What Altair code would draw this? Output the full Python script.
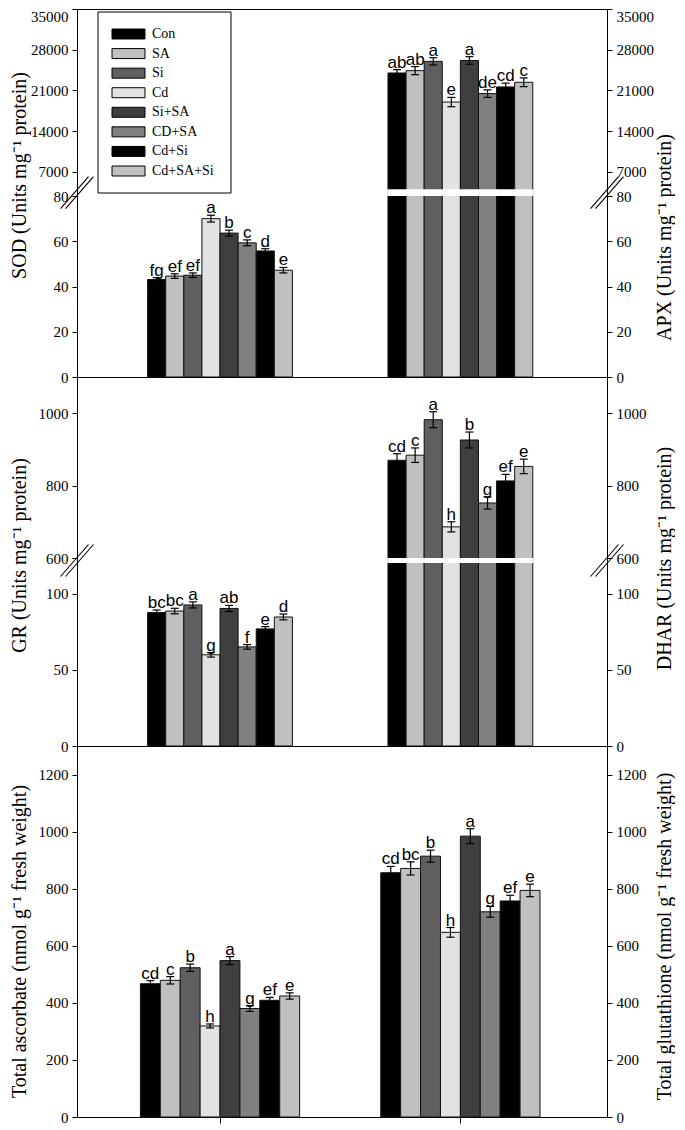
import altair as alt
import pandas as pd

# ---------------- data ----------------
TREATMENTS = ["Con", "SA", "Si", "Cd", "Si+SA", "CD+SA", "Cd+Si", "Cd+SA+Si"]
COLORS = ["#000000", "#c0c0c0", "#5f5f5f", "#e2e2e2", "#3f3f3f", "#808080", "#000000", "#c0c0c0"]

GROUP_POS = [1, 2]
X_DOMAIN = [0.405, 2.61]

SOD = [43.1, 44.6, 45.0, 70.0, 63.6, 59.3, 55.7, 47.2]
SOD_ERR = [0.8, 1.0, 1.0, 1.5, 1.3, 1.3, 1.0, 1.2]
SOD_LET = ["fg", "ef", "ef", "a", "b", "c", "d", "e"]

APX = [24000, 24400, 26000, 19000, 26150, 20450, 21600, 22400]
APX_ERR = [570, 700, 620, 800, 650, 650, 650, 750]
APX_LET = ["ab", "ab", "a", "e", "a", "de", "cd", "c"]

GR = [87.5, 88.5, 92.5, 59.8, 90.2, 65.0, 76.8, 84.6]
GR_ERR = [1.7, 1.8, 2.0, 1.5, 2.0, 1.5, 1.5, 1.9]
GR_LET = ["bc", "bc", "a", "g", "ab", "f", "e", "d"]

DHAR = [870, 884, 982, 686, 926, 752, 813, 853]
DHAR_ERR = [18, 20, 22, 14, 22, 17, 18, 20]
DHAR_LET = ["cd", "c", "a", "h", "b", "g", "ef", "e"]

ASA = [467, 479, 523, 319, 548, 380, 409, 424]
ASA_ERR = [11, 13, 13, 7, 14, 10, 10, 11]
ASA_LET = ["cd", "c", "b", "h", "a", "g", "ef", "e"]

GSH = [856, 871, 914, 647, 984, 719, 757, 794]
GSH_ERR = [22, 23, 21, 17, 26, 19, 20, 22]
GSH_LET = ["cd", "bc", "b", "h", "a", "g", "ef", "e"]

TOP_DOMAIN = [0, 80, 4000, 35000]
TOP_TICKS = [0, 20, 40, 60, 80, 7000, 14000, 21000, 28000, 35000]
MID_DOMAIN = [0, 120, 600, 1100]
MID_TICKS = [0, 50, 100, 600, 800, 1000]
BOT_DOMAIN = [0, 1300]
BOT_TICKS = [0, 200, 400, 600, 800, 1000, 1200]

TITLES = {
    "top": ("SOD (Units mg\u207b\u00b9 protein)", "APX (Units mg\u207b\u00b9 protein)"),
    "mid": ("GR (Units mg\u207b\u00b9 protein)", "DHAR (Units mg\u207b\u00b9 protein)"),
    "bot": ("Total ascorbate (nmol g\u207b\u00b9 fresh weight)",
            "Total glutathione (nmol g\u207b\u00b9 fresh weight)"),
}

# ---------------- style ----------------
SERIF = "Liberation Serif"
SANS = "Liberation Sans"
W = 530
BW_TOP = 0.0753
BW_BOT = 0.0828
CAP_HALF = 0.0166
SWATCH = "M-2.357,-0.714H2.357V0.714H-2.357Z"


def build_df(left, left_err, left_let, right, right_err, right_let, bw):
    rows = []
    sets = [(left, left_err, left_let), (right, right_err, right_let)]
    n = len(TREATMENTS)
    for g, (vals, errs, lets) in enumerate(sets):
        for i, t in enumerate(TREATMENTS):
            c = GROUP_POS[g] + (i - (n - 1) / 2) * bw
            rows.append({
                "side": g, "treatment": t, "value": vals[i], "base": 0,
                "letter": lets[i], "xc": c, "x0": c - bw / 2, "x1": c + bw / 2,
                "c0": c - CAP_HALF, "c1": c + CAP_HALF,
                "lo": vals[i] - errs[i], "hi": vals[i] + errs[i],
            })
    return pd.DataFrame(rows)


def color_enc():
    return alt.Color("treatment:N", scale=alt.Scale(domain=TREATMENTS, range=COLORS), legend=None)


def legend_layers():
    ldf = pd.DataFrame({"treatment": TREATMENTS})
    lscale = alt.Scale(type="point", domain=TREATMENTS, range=[25, 162], padding=0)
    box = alt.Chart(pd.DataFrame({"k": [0]})).mark_rect(
        fill="white", stroke="black", strokeWidth=1).encode(
        x=alt.value(21), x2=alt.value(154), y=alt.value(3), y2=alt.value(184))
    sw = alt.Chart(ldf).mark_point(shape=SWATCH, size=196, filled=True, opacity=1,
                                   stroke="black", strokeWidth=1).encode(
        x=alt.value(51.5), y=alt.Y("treatment:N", scale=lscale, axis=None), fill=color_enc())
    tx = alt.Chart(ldf).mark_text(align="left", baseline="middle", font=SERIF, fontSize=14,
                                  color="black").encode(
        x=alt.value(75), y=alt.Y("treatment:N", scale=lscale, axis=None), text="treatment:N")
    return [box, sw, tx]


def panel(df, ydom, yrange, ticks, height, titles, pads, title_ys, xaxis=None,
          top_label=None, with_legend=False):
    xs = alt.Scale(domain=X_DOMAIN, nice=False, zero=False)

    def ys():
        return alt.Scale(domain=ydom, range=yrange, nice=False, zero=False)

    def axis(orient, title, pad, ty):
        kw = dict(orient=orient, values=ticks, format="d", title=title, grid=False,
                  tickSize=5, labelPadding=4, titlePadding=pad, titleY=ty,
                  labelFont=SERIF, labelFontSize=15, labelColor="black",
                  titleFont=SERIF, titleFontSize=20, titleFontWeight="normal",
                  titleColor="black", domainColor="black", tickColor="black",
                  titleAngle=270, labelOverlap=False)
        if orient == "right":
            kw["titleBaseline"] = "top"
        if top_label is not None:
            kw["labelBaseline"] = {"condition": {"test": f"datum.value == {top_label}", "value": "top"},
                                   "value": "middle"}
        return alt.Axis(**kw)

    base = alt.Chart(df)
    bar_kw = dict(stroke="#111111", strokeWidth=1)

    layers = []
    for side, orient in [(0, "left"), (1, "right")]:
        layers.append(
            base.transform_filter(f"datum.side == {side}").mark_bar(**bar_kw).encode(
                x=alt.X("x0:Q", scale=xs, axis=xaxis), x2="x1:Q",
                y=alt.Y("value:Q", scale=ys(),
                        axis=axis(orient, titles[side], pads[side], title_ys[side]), stack=None),
                y2="base:Q", fill=color_enc())
        )

    if len(ydom) == 4:
        gdf = df.groupby("side").agg(x0=("x0", "min"), x1=("x1", "max")).reset_index()
        gdf["x0"] = gdf["x0"] - 0.003
        gdf["x1"] = gdf["x1"] + 0.003
        gdf["ylo"] = ydom[1]
        gdf["yhi"] = ydom[2]
        layers.append(
            alt.Chart(gdf).mark_rect(fill="white", strokeWidth=0).encode(
                x=alt.X("x0:Q", scale=xs, axis=xaxis), x2="x1:Q",
                y=alt.Y("ylo:Q", scale=ys(), axis=None), y2="yhi:Q")
        )

    layers.append(
        base.mark_rule(color="black", strokeWidth=1.2).encode(
            x=alt.X("xc:Q", scale=xs, axis=xaxis),
            y=alt.Y("lo:Q", scale=ys(), axis=None), y2="hi:Q")
    )
    for f in ["lo", "hi"]:
        layers.append(
            base.mark_rule(color="black", strokeWidth=1.2).encode(
                x=alt.X("c0:Q", scale=xs, axis=xaxis), x2="c1:Q",
                y=alt.Y(f"{f}:Q", scale=ys(), axis=None))
        )
    layers.append(
        base.mark_text(font=SANS, fontSize=17, baseline="alphabetic", dy=-2, color="black").encode(
            x=alt.X("xc:Q", scale=xs, axis=xaxis),
            y=alt.Y("hi:Q", scale=ys(), axis=None), text="letter:N")
    )

    if len(ydom) == 4:
        bdf = pd.DataFrame({"x": X_DOMAIN, "y": [(ydom[1] + ydom[2]) / 2] * 2})
        for dx in (-2.5, 2.5):
            layers.append(
                alt.Chart(bdf).mark_rule(color="black", strokeWidth=1.1,
                                         xOffset=-14 + dx, x2Offset=14 + dx,
                                         yOffset=16, y2Offset=-16).encode(
                    x=alt.X("x:Q", scale=xs, axis=xaxis), x2="x:Q",
                    y=alt.Y("y:Q", scale=ys(), axis=None), y2="y:Q")
            )

    if with_legend:
        layers.extend(legend_layers())

    return alt.layer(*layers).resolve_scale(y="independent").properties(width=W, height=height)


top_df = build_df(SOD, SOD_ERR, SOD_LET, APX, APX_ERR, APX_LET, BW_TOP)
mid_df = build_df(GR, GR_ERR, GR_LET, DHAR, DHAR_ERR, DHAR_LET, BW_TOP)
bot_df = build_df(ASA, ASA_ERR, ASA_LET, GSH, GSH_ERR, GSH_LET, BW_BOT)

top = panel(top_df, TOP_DOMAIN, [368, 187, 180.3, 0], TOP_TICKS, 368, TITLES["top"], (1.5, 0.5),
            (166, 228), top_label=35000, with_legend=True)
mid = panel(mid_df, MID_DOMAIN, [369, 186, 181, 0], MID_TICKS, 369, TITLES["mid"], (9, 8),
            (178, 181))
bot_axis = alt.Axis(values=GROUP_POS, labels=False, ticks=True, tickSize=6, tickColor="black",
                    domainColor="black", grid=False, title=None)
bot = panel(bot_df, BOT_DOMAIN, [371, 0], BOT_TICKS, 371, TITLES["bot"], (9, 8), (195, 190),
            xaxis=bot_axis)

chart = (
    alt.vconcat(top, mid, bot, spacing=0, bounds="flush")
    .resolve_scale(x="independent", y="independent", fill="independent")
    .properties(padding=0, background="white")
    .configure_view(stroke="black", strokeWidth=1)
)

chart.save("out.html", embed_options={"renderer": "svg", "actions": False})
